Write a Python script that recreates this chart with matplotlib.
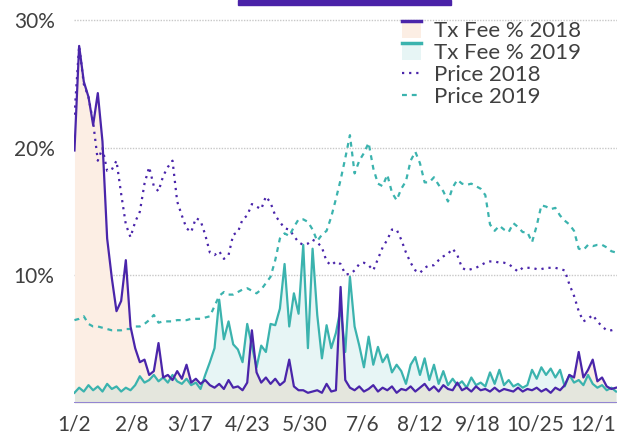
import numpy as np
import pandas as pd
import matplotlib
matplotlib.use('Agg')
import matplotlib.pyplot as plt
from matplotlib.patches import Rectangle
from matplotlib.lines import Line2D
from matplotlib.legend_handler import HandlerBase

plt.rcParams['font.family'] = ['Lato', 'DejaVu Sans']

# values read every 3 days starting 1/2 (percent)
fee_2018 = [19.8, 28.0, 25.2, 24.0, 21.8, 24.3, 20.5, 12.9, 9.8, 7.2,
            8.0, 11.2, 6.0, 4.3, 3.2, 3.4, 2.2, 2.5, 4.7, 2.0,
            2.2, 1.8, 2.5, 1.9, 3.0, 1.6, 1.9, 1.5, 1.8, 1.4,
            1.2, 1.5, 1.1, 1.8, 1.2, 1.3, 1.0, 1.6, 5.7, 2.4,
            1.6, 2.0, 1.5, 1.9, 1.4, 1.7, 3.4, 1.3, 1.0, 1.0,
            0.8, 0.9, 1.0, 0.8, 1.5, 0.9, 1.0, 9.1, 1.8, 1.2,
            1.0, 1.3, 0.9, 1.1, 1.4, 0.9, 1.2, 1.0, 1.3, 0.8,
            1.1, 1.0, 1.3, 0.9, 1.2, 1.5, 1.0, 1.3, 0.9, 1.4,
            1.1, 1.0, 1.6, 1.0, 1.2, 0.9, 1.3, 1.0, 1.1, 0.9,
            1.2, 0.9, 1.1, 1.0, 0.9, 1.2, 0.9, 1.1, 1.0, 1.2,
            0.9, 1.1, 0.8, 1.2, 1.0, 1.4, 2.2, 2.0, 4.0, 2.0,
            2.6, 3.4, 1.7, 2.0, 1.3, 1.1, 1.2]

fee_2019 = [0.8, 1.2, 0.9, 1.4, 1.0, 1.3, 0.9, 1.5, 1.1, 1.3,
            0.9, 1.2, 1.0, 1.4, 2.1, 1.6, 1.8, 2.2, 1.7, 2.0,
            1.6, 2.2, 1.7, 1.5, 1.9, 1.4, 1.6, 1.1, 2.2, 3.2,
            4.3, 8.1, 5.0, 6.4, 4.6, 4.2, 3.2, 6.2, 4.5, 2.8,
            4.5, 4.0, 6.2, 6.1, 7.4, 10.9, 6.0, 8.6, 7.0, 12.4,
            4.3, 12.1, 6.9, 3.5, 6.1, 4.3, 5.5, 7.4, 4.0, 9.9,
            6.0, 4.5, 2.8, 5.2, 3.0, 4.4, 3.2, 3.8, 2.4, 3.0,
            2.5, 1.5, 3.0, 3.6, 2.2, 3.5, 1.8, 3.0, 1.5, 2.5,
            1.4, 1.9, 1.4, 1.7, 1.2, 2.0, 1.4, 1.6, 1.3, 2.4,
            1.5, 2.6, 1.4, 1.8, 1.3, 1.5, 1.2, 1.4, 2.6, 1.9,
            2.8, 2.2, 2.7, 2.0, 2.6, 1.3, 2.2, 1.6, 1.8, 1.4,
            2.2, 1.5, 1.2, 1.4, 1.0, 1.2, 0.9]

price_2018 = [22.6, 28.0, 25.0, 24.0, 22.0, 19.0, 20.0, 18.2, 18.3, 19.0,
              16.4, 14.0, 13.0, 14.2, 15.0, 17.2, 18.5, 17.0, 16.6, 17.8,
              18.5, 19.0, 15.8, 14.7, 13.7, 13.4, 14.5, 14.3, 13.2, 11.8,
              11.6, 11.9, 11.3, 11.6, 13.2, 13.4, 14.4, 14.7, 15.6, 15.4,
              15.2, 16.2, 15.7, 14.7, 14.2, 13.7, 13.6, 13.1, 12.6, 12.4,
              12.5, 12.8, 12.6, 12.2, 11.1, 10.8, 11.1, 10.9, 10.1, 10.1,
              10.4, 10.9, 11.0, 10.8, 10.4, 11.3, 12.2, 12.8, 13.6, 13.6,
              12.8, 11.8, 11.0, 10.4, 10.2, 10.6, 10.8, 10.8, 11.2, 11.5,
              11.7, 12.1, 11.6, 10.6, 10.4, 10.5, 10.6, 10.8, 11.0, 11.1,
              11.1, 11.0, 11.0, 10.9, 10.6, 10.3, 10.6, 10.6, 10.6, 10.5,
              10.5, 10.6, 10.6, 10.6, 10.5, 10.4, 9.3, 8.4, 7.2, 6.4,
              6.6, 6.9, 6.4, 6.0, 5.7, 5.7, 5.8]

price_2019 = [6.5, 6.6, 6.8, 6.2, 6.0, 6.0, 5.9, 5.8, 5.7, 5.7,
              5.7, 5.8, 5.8, 6.0, 6.0, 6.2, 6.5, 6.9, 6.3, 6.4,
              6.4, 6.4, 6.5, 6.5, 6.5, 6.6, 6.6, 6.6, 6.7, 6.8,
              7.6, 8.4, 8.7, 8.5, 8.5, 8.7, 8.9, 9.0, 8.8, 8.6,
              8.9, 9.4, 9.9, 11.2, 12.9, 13.3, 13.1, 13.8, 14.4, 14.4,
              14.2, 13.6, 12.7, 13.2, 13.5, 14.6, 16.0, 17.5, 19.2, 21.0,
              18.0, 19.0, 19.6, 20.4, 18.4, 17.2, 17.0, 17.9, 16.5, 15.9,
              16.8, 17.4, 19.0, 19.7, 18.8, 17.3, 17.3, 17.7, 17.1, 16.6,
              15.8, 16.9, 17.5, 17.2, 17.1, 17.2, 17.0, 16.8, 16.3, 14.0,
              13.5, 13.9, 13.6, 13.4, 14.1, 13.8, 13.4, 13.4, 12.6, 13.9,
              15.5, 15.4, 15.2, 15.3, 14.7, 14.3, 14.0, 13.5, 12.1, 12.0,
              12.4, 12.3, 12.4, 12.4, 12.2, 11.9, 11.8]

tick_labels = ['1/2', '2/8', '3/17', '4/23', '5/30', '7/6', '8/12', '9/18', '10/25', '12/1']
y_ticks = [10, 20, 30]

purple = '#4A25AA'
teal = '#3BB3AE'
peach = '#FCEEE4'
grey_text = '#404040'

days = np.arange(len(fee_2018)) * 3
start = pd.Timestamp('2018-01-02')
tick_days = [(pd.Timestamp('2018-' + t.replace('/', '-')) - start).days for t in tick_labels]

fig = plt.figure(figsize=(6.17, 4.33), dpi=100)
ax = fig.add_axes([74 / 617, 30 / 433, 543 / 617, 403 / 433])

# areas
ax.fill_between(days, fee_2018, 0, color=peach, lw=0, zorder=1)
ax.fill_between(days, fee_2019, 0, color=teal, alpha=0.12, lw=0, zorder=2)

# gridlines
for v in y_ticks:
    ax.axhline(v, color='#c8c8c8', lw=1, ls=(0, (1, 1)), zorder=0)
ax.axhline(0, color='#9385d2', lw=2.2, zorder=3)

# lines
ax.plot(days, price_2018, color=purple, lw=1.6, ls=(0, (1, 2.2)), zorder=4)
ax.plot(days, price_2019, color=teal, lw=1.6, ls=(0, (2.2, 2.2)), zorder=4)
ax.plot(days, fee_2019, color=teal, lw=1.6, zorder=5)
ax.plot(days, fee_2018, color=purple, lw=1.6, zorder=6)

ax.set_xlim(-0.3, 348.6)
ax.set_ylim(0, 31.6)
ax.set_xticks(tick_days)
ax.set_xticklabels(tick_labels)
ax.set_yticks(y_ticks)
ax.set_yticklabels([f'{v}%' for v in y_ticks])
ax.tick_params(length=0, labelsize=15, labelcolor=grey_text)
ax.tick_params(axis='x', pad=8)
ax.tick_params(axis='y', pad=14)
for s in ax.spines.values():
    s.set_visible(False)


# legend handle: patch with coloured top edge
class FillLine(HandlerBase):
    def create_artists(self, legend, orig_handle, xdescent, ydescent, width, height, fontsize, trans):
        face, edge, alpha = orig_handle
        r = Rectangle((-xdescent, -ydescent), width, height, facecolor=face, alpha=alpha,
                      edgecolor='none', transform=trans)
        l = Line2D([-xdescent, -xdescent + width], [-ydescent + height] * 2, color=edge, lw=2.5,
                   transform=trans)
        return [r, l]


h1 = (peach, purple, 1.0)
h2 = (teal, teal, 0.12)
h3 = Line2D([], [], color=purple, lw=1.6, ls=(0, (1, 2.2)))
h4 = Line2D([], [], color=teal, lw=1.6, ls=(0, (2.2, 2.2)))
leg = fig.legend([h1, h2, h3, h4], ['Tx Fee % 2018', 'Tx Fee % 2019', 'Price 2018', 'Price 2019'],
                 handler_map={tuple: FillLine()}, loc='upper left',
                 bbox_to_anchor=(402 / 617, 1 - 21 / 433), frameon=False, fontsize=16,
                 handlelength=0.85, handleheight=0.8, handletextpad=0.6, labelspacing=0.08,
                 borderpad=0, borderaxespad=0)
for t in leg.get_texts():
    t.set_color(grey_text)

# header bar at the top
fig.patches.append(Rectangle((238 / 617, 428 / 433), 213 / 617, 5 / 433, color='#4A22A8',
                             transform=fig.transFigure, figure=fig))

fig.savefig('out.png', dpi=100)
